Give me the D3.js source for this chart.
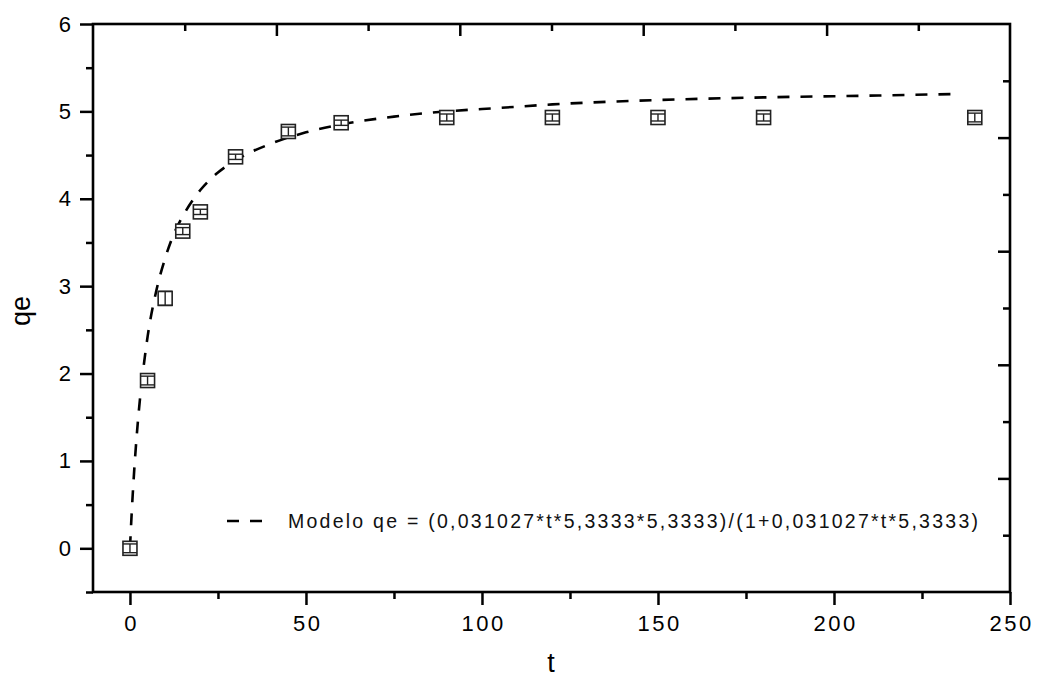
<!DOCTYPE html>
<html>
<head>
<meta charset="utf-8">
<script src="https://cdn.jsdelivr.net/npm/d3@7"></script>
<style>
  body { margin: 0; background: #fff; }
  svg { display: block; font-family: Arial, "Liberation Sans", sans-serif; }
</style>
</head>
<body>
<svg id="chart" width="1038" height="679"></svg>
<script>
// measured points (t, qe) with their small error bars
const tValues = [0, 5, 10, 15, 20, 30, 45, 60, 90, 120, 150, 180, 240];
const qeValues = [0, 1.92, 2.86, 3.63, 3.85, 4.48, 4.77, 4.87, 4.93, 4.93, 4.93, 4.93, 4.93];
const qeErrors = [0.05, 0.05, 0.08, 0.04, 0.03, 0.03, 0.05, 0.03, 0.04, 0.04, 0.04, 0.04, 0.05];

// model curve
const modelT = [0, 0.5, 1, 2, 3, 4, 5, 7.5, 10, 12.5, 15, 20, 25, 30, 40, 50, 60, 75, 90, 105, 120, 150, 180, 210, 236];
const modelQ = [0, 0.41, 0.76, 1.33, 1.77, 2.12, 2.42, 2.95, 3.32, 3.6, 3.8, 4.1, 4.3, 4.44, 4.63, 4.76, 4.85, 4.94, 5.0, 5.04, 5.08, 5.13, 5.16, 5.18, 5.2];

const xTicks = [0, 50, 100, 150, 200, 250];
const yTicks = [0, 1, 2, 3, 4, 5, 6];
const legendLabel = "Modelo qe = (0,031027*t*5,3333*5,3333)/(1+0,031027*t*5,3333)";

const svg = d3.select("#chart");
const plot = { left: 93, right: 1010, top: 24, bottom: 592 };

const x = d3.scaleLinear().domain([-10.5, 250]).range([plot.left, plot.right]);
const y = d3.scaleLinear().domain([-0.5, 6]).range([plot.bottom, plot.top]);
// top and right axes in the original are unlinked, 5 even divisions each
const xTop = d3.scaleLinear().domain([0, 5]).range([plot.left, plot.right]);
const yRight = d3.scaleLinear().domain([0, 5]).range([plot.top, plot.bottom]);

function styleAxis(g) {
  g.select(".domain").remove();
  g.selectAll(".tick line").attr("stroke", "#000").attr("stroke-width", 2.5);
}

// bottom axis: major + minor ticks outward
svg.append("g")
   .attr("transform", `translate(0,${plot.bottom})`)
   .call(d3.axisBottom(x).tickValues(d3.range(0, 251, 25).filter(v => v % 50)).tickSize(7).tickFormat(""))
   .call(styleAxis);
const xAxis = svg.append("g")
   .attr("transform", `translate(0,${plot.bottom})`)
   .call(d3.axisBottom(x).tickValues(xTicks).tickSize(13).tickPadding(10).tickFormat(d3.format("d")))
   .call(styleAxis);
xAxis.selectAll("text")
     .attr("font-size", 22).attr("fill", "#000")
     .style("letter-spacing", "2.5px")
     .attr("dx", "1.2px");

// left axis
svg.append("g")
   .attr("transform", `translate(${plot.left},0)`)
   .call(d3.axisLeft(y).tickValues([-0.5, 0.5, 1.5, 2.5, 3.5, 4.5, 5.5]).tickSize(7).tickFormat(""))
   .call(styleAxis);
svg.append("g")
   .attr("transform", `translate(${plot.left},0)`)
   .call(d3.axisLeft(y).tickValues(yTicks).tickSize(13).tickPadding(9).tickFormat(d3.format("d")))
   .call(styleAxis)
   .selectAll("text").attr("font-size", 22).attr("fill", "#000");

// top axis, ticks inward
svg.append("g")
   .attr("transform", `translate(0,${plot.top})`)
   .call(d3.axisBottom(xTop).tickValues([0.5, 1.5, 2.5, 3.5, 4.5]).tickSize(7).tickFormat(""))
   .call(styleAxis);
svg.append("g")
   .attr("transform", `translate(0,${plot.top})`)
   .call(d3.axisBottom(xTop).tickValues([1, 2, 3, 4]).tickSize(12).tickFormat(""))
   .call(styleAxis);

// right axis, ticks inward
svg.append("g")
   .attr("transform", `translate(${plot.right},0)`)
   .call(d3.axisLeft(yRight).tickValues([0.5, 1.5, 2.5, 3.5, 4.5]).tickSize(7).tickFormat(""))
   .call(styleAxis);
svg.append("g")
   .attr("transform", `translate(${plot.right},0)`)
   .call(d3.axisLeft(yRight).tickValues([1, 2, 3, 4]).tickSize(12).tickFormat(""))
   .call(styleAxis);

// frame
svg.append("rect")
   .attr("x", plot.left).attr("y", plot.top)
   .attr("width", plot.right - plot.left).attr("height", plot.bottom - plot.top)
   .attr("fill", "none").attr("stroke", "#000").attr("stroke-width", 2.6);

// model curve
const line = d3.line()
  .x((d, i) => x(modelT[i]))
  .y(d => y(d))
  .curve(d3.curveMonotoneX);
svg.append("path")
   .datum(modelQ)
   .attr("d", line)
   .attr("fill", "none")
   .attr("stroke", "#000")
   .attr("stroke-width", 2.6)
   .attr("stroke-dasharray", "12,11");

// data markers: open squares with error bars inside
const pts = tValues.map((t, i) => ({ t: t, q: qeValues[i], e: qeErrors[i] }));
const mk = svg.append("g").attr("class", "markers")
  .selectAll("g").data(pts).join("g")
  .attr("transform", d => `translate(${x(d.t)},${y(d.q)})`);
const half = 7;
mk.append("rect")
  .attr("x", -half).attr("y", -half)
  .attr("width", half * 2).attr("height", half * 2)
  .attr("fill", "#fff").attr("stroke", "#222").attr("stroke-width", 1.6);
mk.append("line")
  .attr("x1", 0).attr("x2", 0)
  .attr("y1", d => y(d.q + d.e) - y(d.q))
  .attr("y2", d => y(d.q - d.e) - y(d.q))
  .attr("stroke", "#222").attr("stroke-width", 1.4);
mk.append("line")
  .attr("x1", -half).attr("x2", half)
  .attr("y1", d => y(d.q + d.e) - y(d.q))
  .attr("y2", d => y(d.q + d.e) - y(d.q))
  .attr("stroke", "#222").attr("stroke-width", 1.4);
mk.append("line")
  .attr("x1", -half).attr("x2", half)
  .attr("y1", d => y(d.q - d.e) - y(d.q))
  .attr("y2", d => y(d.q - d.e) - y(d.q))
  .attr("stroke", "#222").attr("stroke-width", 1.4);

// legend
const legend = svg.append("g").attr("transform", "translate(227,521)");
legend.append("line")
  .attr("x1", 0).attr("x2", 36).attr("y1", 0).attr("y2", 0)
  .attr("stroke", "#000").attr("stroke-width", 2.6)
  .attr("stroke-dasharray", "12,11");
legend.append("text")
  .attr("x", 61).attr("y", 6.5)
  .attr("font-size", 19.5).attr("fill", "#111")
  .attr("textLength", 690).attr("lengthAdjust", "spacing")
  .text(legendLabel);

// axis titles
svg.append("text")
   .attr("x", (plot.left + plot.right) / 2 - 0.5).attr("y", 672)
   .attr("text-anchor", "middle").attr("font-size", 27).attr("fill", "#000")
   .text("t");
svg.append("text")
   .attr("transform", "translate(30,311) rotate(-90)")
   .attr("text-anchor", "middle").attr("font-size", 27).attr("fill", "#000")
   .text("qe");
</script>
</body>
</html>
